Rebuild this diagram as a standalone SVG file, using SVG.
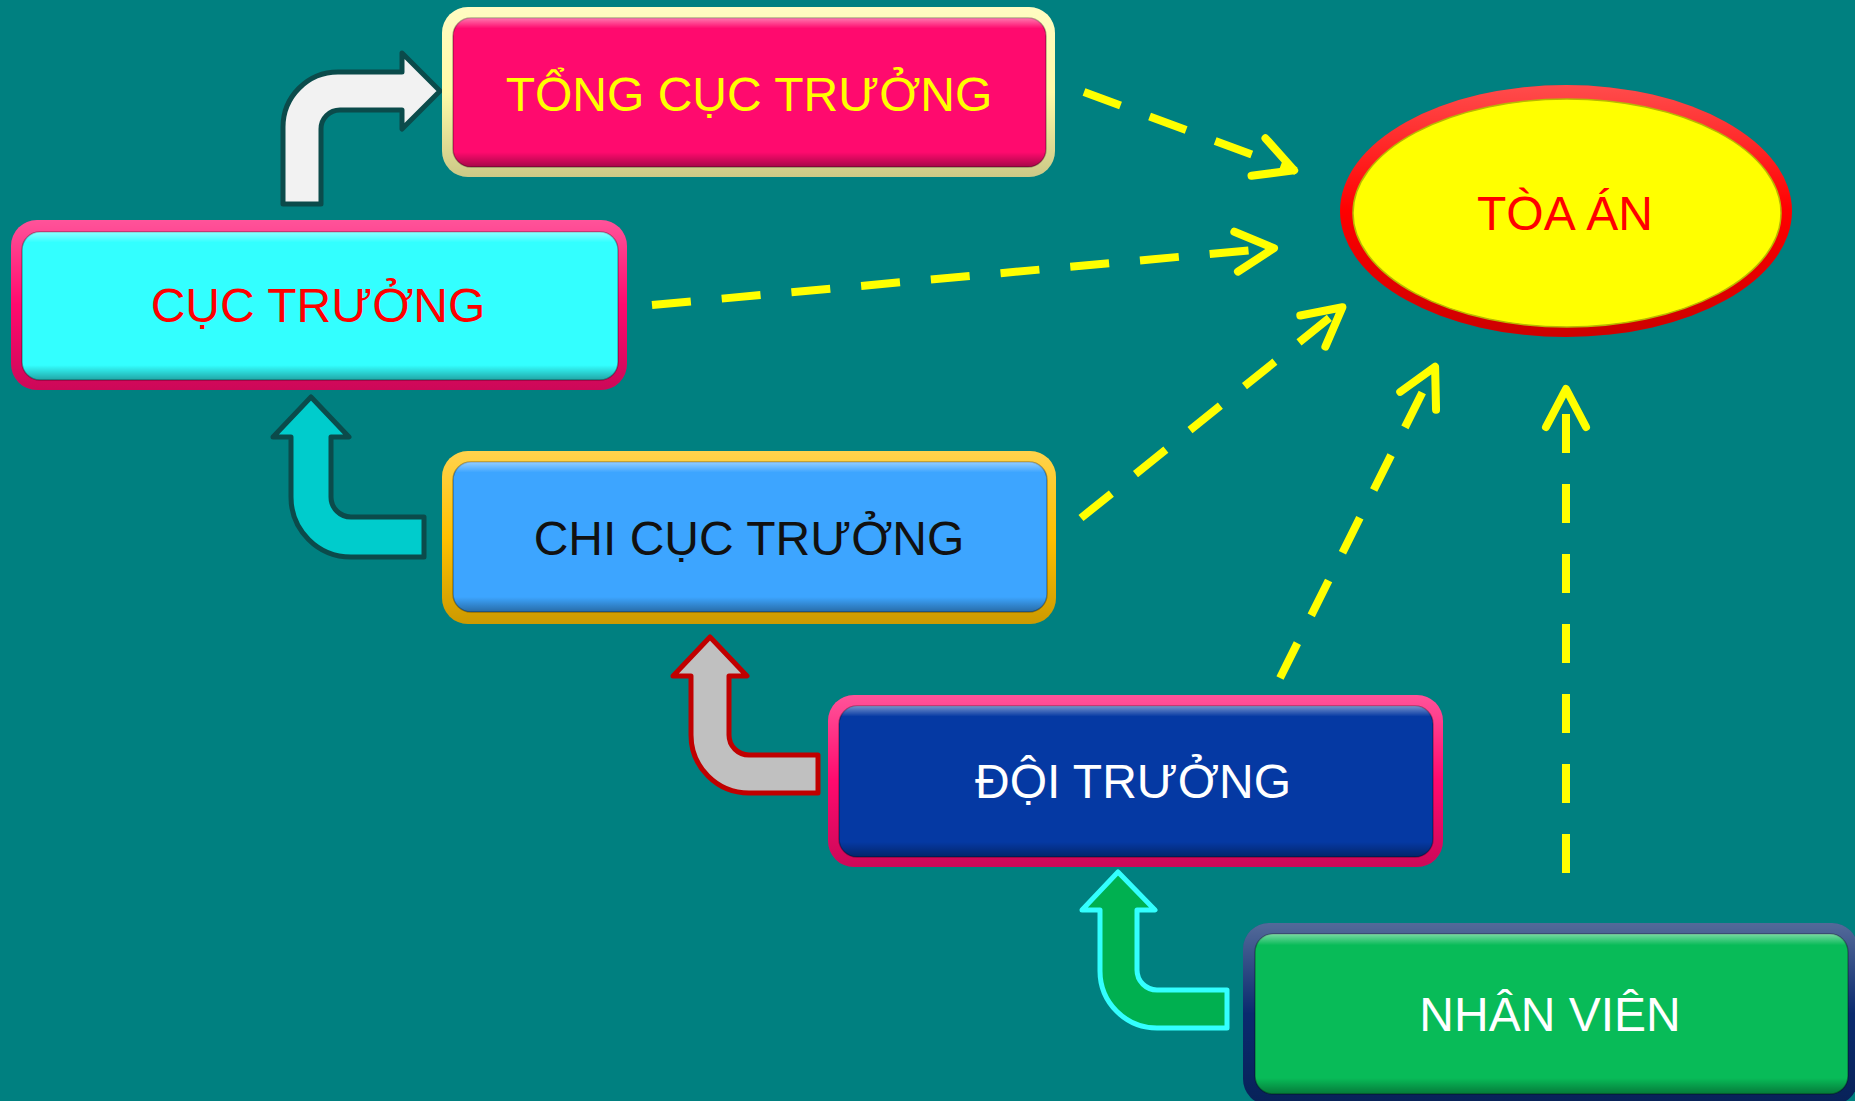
<svg xmlns="http://www.w3.org/2000/svg" width="1855" height="1101" viewBox="0 0 1855 1101">
<style>
.lbl{font-family:"Liberation Sans",Arial,sans-serif;font-size:48px;text-anchor:middle}
.conn{fill:none;stroke:#FFFF00;stroke-width:8;stroke-dasharray:39 31;marker-end:url(#chev)}
.bent{stroke-width:5;stroke-linejoin:round}
.inner{stroke:rgba(0,0,0,0.3);stroke-width:1.5}
</style>
<defs>
<linearGradient id="bevel" x1="0" y1="0" x2="0" y2="1">
<stop offset="0" stop-color="#fff" stop-opacity="0.45"/>
<stop offset="0.07" stop-color="#fff" stop-opacity="0"/>
<stop offset="0.9" stop-color="#000" stop-opacity="0"/>
<stop offset="1" stop-color="#000" stop-opacity="0.35"/>
</linearGradient>
<linearGradient id="frame" x1="0" y1="0" x2="0" y2="1">
<stop offset="0" stop-color="#fff" stop-opacity="0.3"/>
<stop offset="0.5" stop-color="#fff" stop-opacity="0"/>
<stop offset="0.5" stop-color="#000" stop-opacity="0"/>
<stop offset="1" stop-color="#000" stop-opacity="0.2"/>
</linearGradient>
<marker id="chev" markerUnits="userSpaceOnUse" viewBox="-45 -28 60 56" markerWidth="60" markerHeight="56" refX="0" refY="0" orient="auto" overflow="visible">
<path d="M-40,-20 L-2,0 L-40,20" fill="none" stroke="#FFFF00" stroke-width="8" stroke-linecap="round" stroke-linejoin="round"/>
</marker>
</defs>
<rect width="1855" height="1101" fill="#008080"/>

<g id="connectors">
<path class="conn" d="M1084,92 L1296,171"/>
<path class="conn" d="M652,305 L1276,248"/>
<path class="conn" d="M1081,518 L1344,306"/>
<path class="conn" d="M1280,678 L1436,365"/>
<path class="conn" d="M1566,873 L1566,387"/>
</g>

<g id="bent-arrows">
<path id="arrow-cuc-tong" class="bent" fill="#F2F2F2" stroke="#0B4B4B" d="M283,204 L283,127 A55,55 0 0 1 338,72 L402,72 L402,53 L440,91 L402,129 L402,110 L340,110 A19,19 0 0 0 321,129 L321,204 Z"/>
<path id="arrow-chi-cuc" class="bent" fill="#00CCCC" stroke="#0B4B4B" d="M311,397 L349,437 L331,437 L331,497 A20,20 0 0 0 351,517 L424,517 L424,557 L351,557 A60,60 0 0 1 291,497 L291,437 L273,437 Z"/>
<path id="arrow-doi-chi" class="bent" fill="#C0C0C0" stroke="#C00000" d="M710,637 L747,676 L729,676 L729,735 A20,20 0 0 0 749,755 L818,755 L818,793 L749,793 A58,58 0 0 1 691,735 L691,676 L673,676 Z"/>
<path id="arrow-nv-doi" class="bent" fill="#00B050" stroke="#33FFFF" d="M1118,872 L1155,910 L1137,910 L1137,970 A20,20 0 0 0 1157,990 L1227,990 L1227,1028 L1157,1028 A57,57 0 0 1 1100,971 L1100,910 L1082,910 Z"/>
</g>

<g id="tong-cuc-truong">
<rect x="442" y="7" width="613" height="170" rx="26" fill="#FFFBA8"/>
<rect x="442" y="7" width="613" height="170" rx="26" fill="url(#frame)"/>
<rect class="inner" x="453" y="18" width="593" height="149" rx="18" fill="#FF0A6E"/>
<rect x="453" y="18" width="593" height="149" rx="18" fill="url(#bevel)"/>
<text class="lbl" x="749" y="111" fill="#FFFF00">TỔNG CỤC TRƯỞNG</text>
</g>

<g id="cuc-truong">
<rect x="11" y="220" width="616" height="170" rx="26" fill="#FF0A6E"/>
<rect x="11" y="220" width="616" height="170" rx="26" fill="url(#frame)"/>
<rect class="inner" x="22" y="232" width="596" height="148" rx="18" fill="#33FFFF"/>
<rect x="22" y="232" width="596" height="148" rx="18" fill="url(#bevel)"/>
<text class="lbl" x="318" y="322" fill="#FF0000">CỤC TRƯỞNG</text>
</g>

<g id="chi-cuc-truong">
<rect x="442" y="451" width="614" height="173" rx="26" fill="#FFC000"/>
<rect x="442" y="451" width="614" height="173" rx="26" fill="url(#frame)"/>
<rect class="inner" x="453" y="462" width="594" height="150" rx="18" fill="#3DA5FF"/>
<rect x="453" y="462" width="594" height="150" rx="18" fill="url(#bevel)"/>
<text class="lbl" x="749" y="555" fill="#111111">CHI CỤC TRƯỞNG</text>
</g>

<g id="doi-truong">
<rect x="828" y="695" width="615" height="172" rx="26" fill="#FF0A6E"/>
<rect x="828" y="695" width="615" height="172" rx="26" fill="url(#frame)"/>
<rect class="inner" x="839" y="706" width="594" height="151" rx="18" fill="#0539A3"/>
<rect x="839" y="706" width="594" height="151" rx="18" fill="url(#bevel)"/>
<text class="lbl" x="1133" y="798" fill="#FFFFFF">ĐỘI TRƯỞNG</text>
</g>

<g id="nhan-vien">
<rect x="1243" y="923" width="615" height="182" rx="26" fill="#0A2A6E"/>
<rect x="1243" y="923" width="615" height="182" rx="26" fill="url(#frame)"/>
<rect class="inner" x="1255" y="934" width="593" height="160" rx="18" fill="#08BB58"/>
<rect x="1255" y="934" width="593" height="160" rx="18" fill="url(#bevel)"/>
<text class="lbl" x="1550" y="1031" fill="#FFFFFF">NHÂN VIÊN</text>
</g>

<g id="toa-an">
<ellipse cx="1566" cy="211" rx="226" ry="126" fill="#FF0000"/>
<ellipse cx="1566" cy="211" rx="226" ry="126" fill="url(#frame)"/>
<ellipse cx="1567" cy="213" rx="214" ry="114" fill="#FFFF00" stroke="#B8B800" stroke-width="1.5"/>
<text class="lbl" x="1565" y="230" fill="#FF0000">TÒA ÁN</text>
</g>
</svg>
